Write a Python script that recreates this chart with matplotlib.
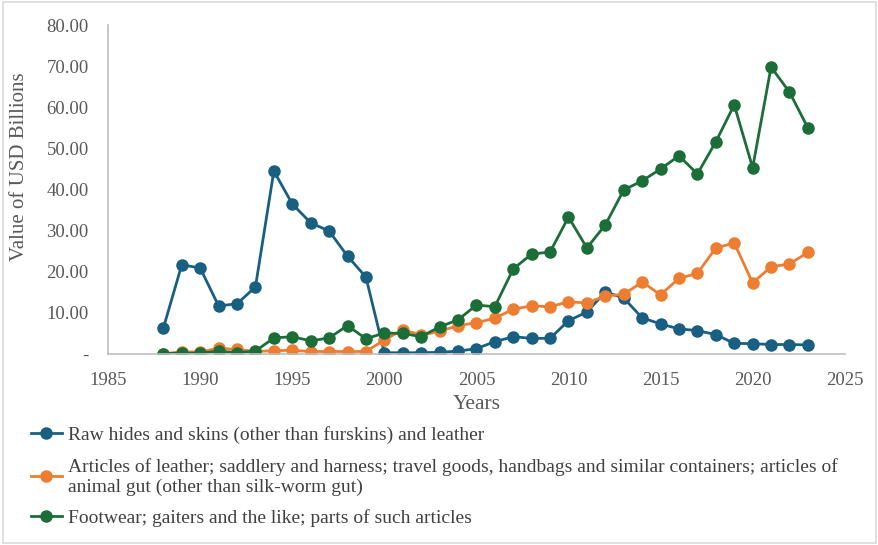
import numpy as np
import matplotlib.pyplot as plt
from matplotlib.patches import Rectangle

years = list(range(1988, 2024))

raw_hides = [6.3, 21.7, 20.9, 11.7, 12.2, 16.3, 44.5, 36.5, 31.9, 29.9, 23.8, 18.7,
             0.3, 0.3, 0.3, 0.4, 0.7, 1.3, 3.0, 4.2, 3.8, 3.8, 8.1, 10.2,
             15.1, 13.6, 8.8, 7.3, 6.1, 5.7, 4.7, 2.6, 2.5, 2.3, 2.3, 2.2]
articles = [0.1, 0.5, 0.5, 1.4, 1.1, 0.6, 0.8, 0.9, 0.6, 0.6, 0.6, 0.6,
            3.4, 5.9, 4.6, 5.5, 6.9, 7.6, 8.7, 10.9, 11.7, 11.5, 12.7, 12.4,
            14.1, 14.5, 17.5, 14.4, 18.4, 19.6, 25.8, 27.0, 17.3, 21.2, 21.9, 24.7]
footwear = [0.1, 0.2, 0.2, 0.7, 0.3, 0.7, 3.9, 4.2, 3.2, 3.9, 6.9, 3.7,
            5.1, 5.0, 4.2, 6.6, 8.3, 11.9, 11.5, 20.7, 24.3, 24.8, 33.3, 25.8,
            31.4, 39.9, 42.1, 45.0, 48.2, 43.8, 51.6, 60.6, 45.3, 69.8, 63.7, 55.0]

labels = ["Raw hides and skins (other than furskins) and leather",
          "Articles of leather; saddlery and harness; travel goods, handbags and similar containers; articles of\nanimal gut (other than silk-worm gut)",
          "Footwear; gaiters and the like; parts of such articles"]
colors = ["#195F82", "#ED7D31", "#1B6E37"]

plt.rcParams['font.family'] = ['Liberation Serif', 'DejaVu Serif']

fig = plt.figure(figsize=(8.79, 5.45), dpi=100)
ax = fig.add_axes([0.123, 0.3505, 0.838, 0.6035])

for vals, lab, c in zip([raw_hides, articles, footwear], labels, colors):
    ax.plot(years, vals, color=c, lw=2.0, marker='o', markersize=8, label=lab)

ax.set_xlim(1985, 2025)
ax.set_ylim(0, 80)
ax.set_xticks(range(1985, 2026, 5))
ax.set_yticks(range(0, 81, 10))
ax.set_yticklabels(['-' if v == 0 else f"{v:.2f}" for v in range(0, 81, 10)])
ax.tick_params(length=0, colors='#595959', labelsize=13.5)
ax.tick_params(axis='x', pad=13)
ax.tick_params(axis='y', pad=14)
for s in ['top', 'right']:
    ax.spines[s].set_visible(False)
for s in ['left', 'bottom']:
    ax.spines[s].set_color('#BFBFBF')
    ax.spines[s].set_linewidth(1.2)

ax.set_xlabel("Years", fontsize=15.5, color='#595959', labelpad=4)
ax.set_ylabel("Value of USD Billions", fontsize=15, color='#595959')
ax.yaxis.set_label_coords(-0.107, 0.57)

leg = fig.legend(loc='upper left', bbox_to_anchor=(0.015, 0.25), frameon=False,
                 fontsize=14, labelspacing=0.7, handlelength=1.6, handletextpad=0.3,
                 labelcolor='#404040')

fig.patches.append(Rectangle((0.003, 0.003), 0.994, 0.994, transform=fig.transFigure,
                             fill=False, edgecolor='#D9D9D9', lw=1.2))

fig.savefig('out.png', dpi=100)
